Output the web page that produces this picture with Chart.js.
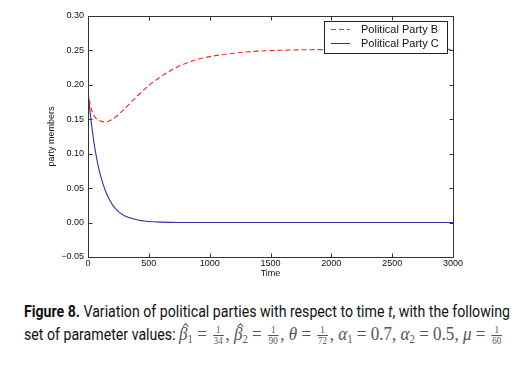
<!DOCTYPE html>
<html>
<head>
<meta charset="utf-8">
<script src="https://cdn.jsdelivr.net/npm/chart.js@4"></script>
<style>
  body { margin: 0; background: #fff; width: 523px; height: 371px; overflow: hidden; position: relative; }
  #chart { position: absolute; left: 0; top: 0; }
  .cap { position: absolute; white-space: nowrap; color: #111; line-height: 18px;
         font-family: "Roboto", "Liberation Sans", sans-serif;
         font-size: 16px; transform-origin: left top; }
  #cap1 { left: 24px; top: 303px; }
  #cap2 { left: 24px; top: 326px; }
  #math { position: absolute; left: 179px; top: 323px; white-space: nowrap; line-height: 22px;
          font-family: "Liberation Serif", "DejaVu Serif", serif; color: #555; font-size: 19px;
          transform-origin: left top; }
  #math i { font-style: italic; }
  #math sub { font-size: 12px; vertical-align: -3px; font-style: normal; }
  .hat { position: relative; display: inline-block; }
  .hat::after { content: ""; position: absolute; left: 5px; top: 1px; width: 4px; height: 4px;
                border-left: 1px solid #555; border-top: 1px solid #555; transform: rotate(45deg); }
  .frac { display: inline-block; vertical-align: middle; text-align: center; font-size: 10px; line-height: 10px; margin: 0 2px; }
  .frac span { display: block; padding: 0 1px; }
  .frac .den { border-top: 1px solid #555; }
</style>
</head>
<body>
<canvas id="chart" width="523" height="285"></canvas>
<div class="cap" id="cap1"><b>Figure 8.</b> Variation of political parties with respect to time <i>t</i>, with the following</div>
<div class="cap" id="cap2">set of parameter values:</div>
<div id="math"><i class="hat">β</i><sub>1</sub> = <span class="frac"><span>1</span><span class="den">34</span></span>, <i class="hat">β</i><sub>2</sub> = <span class="frac"><span>1</span><span class="den">90</span></span>, <i>θ</i> = <span class="frac"><span>1</span><span class="den">72</span></span>, <i>α</i><sub>1</sub> = 0.7, <i>α</i><sub>2</sub> = 0.5, <i>μ</i> = <span class="frac"><span>1</span><span class="den">60</span></span></div>
<script>
// values
const timeB = [0, 20, 50, 100, 140, 200, 300, 400, 500, 600, 700, 800, 900, 1000, 1200, 1400, 1600, 1800, 2000, 2500, 3000];
const partyB = [0.190, 0.170, 0.155, 0.148, 0.146, 0.150, 0.165, 0.183, 0.199, 0.212, 0.223, 0.231, 0.237, 0.241, 0.246, 0.249, 0.2503, 0.251, 0.2512, 0.2515, 0.2515];
const timeC = [0, 25, 50, 75, 100, 150, 200, 250, 300, 400, 500, 600, 800, 1000, 1500, 2000, 2500, 3000];
const partyC = [0.190, 0.148, 0.115, 0.090, 0.070, 0.043, 0.026, 0.016, 0.010, 0.004, 0.0015, 0.0006, 0.0001, 0, 0, 0, 0, 0];
const xTicks = [0, 500, 1000, 1500, 2000, 2500, 3000];
const yTicks = [-0.05, 0, 0.05, 0.10, 0.15, 0.20, 0.25, 0.30];
const seriesNames = ["Political Party B", "Political Party C"];
const seriesColors = ["#ff2020", "#3030a8"];

const tickFont = { family: "Liberation Sans, Arial, sans-serif", size: 9 };

// frame, inward ticks and legend box drawn like matplotlib
const framePlugin = {
  id: "frame",
  afterDraw(chart) {
    const { ctx, chartArea: a, scales } = chart;
    const l = Math.round(a.left) + 0.5, r = Math.round(a.right) + 0.5;
    const t = Math.round(a.top) + 0.5, b = Math.round(a.bottom) + 0.5;
    ctx.save();
    ctx.strokeStyle = "#333";
    ctx.lineWidth = 1;
    ctx.beginPath();
    ctx.moveTo(l, t); ctx.lineTo(r, t); ctx.lineTo(r, b); ctx.lineTo(l, b); ctx.closePath();
    xTicks.forEach(v => {
      const x = Math.round(scales.x.getPixelForValue(v)) + 0.5;
      ctx.moveTo(x, b); ctx.lineTo(x, b - 4);
      ctx.moveTo(x, t); ctx.lineTo(x, t + 4);
    });
    yTicks.forEach(v => {
      const y = Math.round(scales.y.getPixelForValue(v)) + 0.5;
      ctx.moveTo(l, y); ctx.lineTo(l + 4, y);
      ctx.moveTo(r, y); ctx.lineTo(r - 4, y);
    });
    ctx.stroke();

    // legend
    const lx = 324.5, ly = 21.5, lw = 123, lh = 32;
    ctx.fillStyle = "#fff";
    ctx.fillRect(lx, ly, lw, lh);
    ctx.strokeStyle = "#222";
    ctx.strokeRect(lx, ly, lw, lh);
    ctx.font = "11px Liberation Sans, Arial, sans-serif";
    ctx.textBaseline = "middle";
    seriesNames.forEach((name, i) => {
      const y = 29.5 + i * 14;
      ctx.strokeStyle = seriesColors[i];
      ctx.setLineDash(i === 0 ? [5, 3] : []);
      ctx.beginPath();
      ctx.moveTo(331, y); ctx.lineTo(350, y);
      ctx.stroke();
      ctx.setLineDash([]);
      ctx.fillStyle = "#111";
      ctx.fillText(name, 361, y);
    });
    ctx.restore();
  }
};

new Chart(document.getElementById("chart"), {
  type: "line",
  data: {
    datasets: [
      {
        label: seriesNames[0],
        data: timeB.map((t, i) => ({ x: t, y: partyB[i] })),
        borderColor: seriesColors[0],
        borderWidth: 1.1,
        borderDash: [5, 3],
        pointRadius: 0,
        cubicInterpolationMode: "monotone",
        fill: false
      },
      {
        label: seriesNames[1],
        data: timeC.map((t, i) => ({ x: t, y: partyC[i] })),
        borderColor: seriesColors[1],
        borderWidth: 1.1,
        pointRadius: 0,
        cubicInterpolationMode: "monotone",
        fill: false
      }
    ]
  },
  options: {
    responsive: false,
    devicePixelRatio: 1,
    animation: false,
    layout: { padding: { top: 16, right: 70, left: 0, bottom: 0 } },
    plugins: { legend: { display: false }, tooltip: { enabled: false } },
    scales: {
      x: {
        type: "linear",
        min: 0, max: 3000,
        afterBuildTicks: s => { s.ticks = xTicks.map(v => ({ value: v })); },
        afterFit: s => { s.height = 28; },
        grid: { display: false, drawTicks: false },
        border: { display: false },
        ticks: { font: tickFont, color: "#111", padding: 1, maxRotation: 0, callback: v => String(v) },
        title: { display: true, text: "Time", font: tickFont, color: "#111", padding: { top: 0, bottom: 6 } }
      },
      y: {
        min: -0.05, max: 0.30,
        afterBuildTicks: s => { s.ticks = yTicks.map(v => ({ value: v })); },
        afterFit: s => { s.width = 88; },
        grid: { display: false, drawTicks: false },
        border: { display: false },
        ticks: {
          font: tickFont, color: "#111", padding: 4,
          callback: v => v.toFixed(2).replace("-", "\u2212")
        },
        title: { display: true, text: "party members", font: tickFont, color: "#111", padding: { top: 46, bottom: 0 } }
      }
    }
  },
  plugins: [framePlugin]
});

// squeeze caption text to the widths used in the figure
const cap1 = document.getElementById("cap1");
const squeeze = 486 / cap1.getBoundingClientRect().width;
cap1.style.transform = "scaleX(" + squeeze + ")";
document.getElementById("cap2").style.transform = "scaleX(" + squeeze + ")";
const math = document.getElementById("math");
math.style.transform = "scaleX(" + (325 / math.getBoundingClientRect().width) + ")";
</script>
</body>
</html>
